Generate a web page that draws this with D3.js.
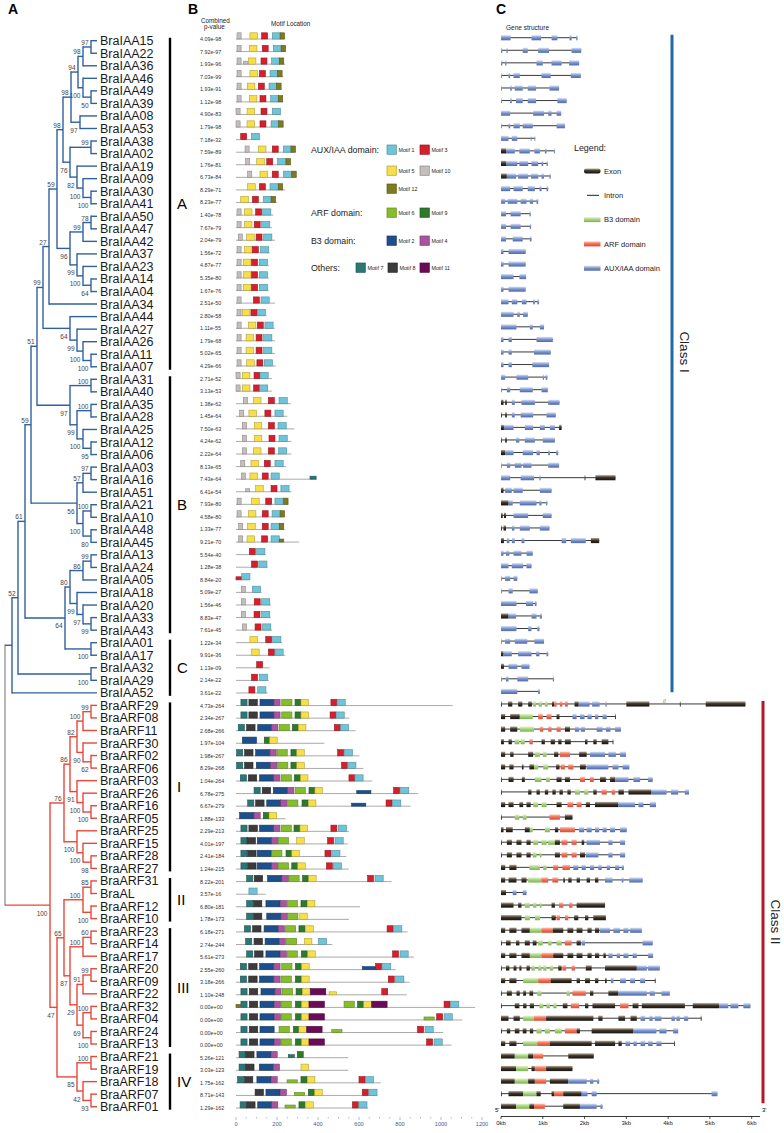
<!DOCTYPE html>
<html><head><meta charset="utf-8">
<script src="https://cdn.jsdelivr.net/npm/d3@7"></script>
<style>body{margin:0;background:#fff}</style>
</head><body><svg id="c" width="784" height="1133"></svg>
<script>
// ---------------- DATA ----------------
const genes = ["BraIAA15","BraIAA22","BraIAA36","BraIAA46","BraIAA49","BraIAA39","BraIAA08","BraIAA53","BraIAA38","BraIAA02","BraIAA19","BraIAA09","BraIAA30","BraIAA41","BraIAA50","BraIAA47","BraIAA42","BraIAA37","BraIAA23","BraIAA14","BraIAA04","BraIAA34","BraIAA44","BraIAA27","BraIAA26","BraIAA11","BraIAA07","BraIAA31","BraIAA40","BraIAA35","BraIAA28","BraIAA25","BraIAA12","BraIAA06","BraIAA03","BraIAA16","BraIAA51","BraIAA21","BraIAA10","BraIAA48","BraIAA45","BraIAA13","BraIAA24","BraIAA05","BraIAA18","BraIAA20","BraIAA33","BraIAA43","BraIAA01","BraIAA17","BraIAA32","BraIAA29","BraIAA52","BraARF29","BraARF08","BraARF11","BraARF30","BraARF02","BraARF06","BraARF03","BraARF26","BraARF16","BraARF05","BraARF25","BraARF15","BraARF28","BraARF27","BraARF31","BraAL","BraARF12","BraARF10","BraARF23","BraARF14","BraARF17","BraARF20","BraARF09","BraARF22","BraARF32","BraARF04","BraARF24","BraARF13","BraARF21","BraARF19","BraARF18","BraARF07","BraARF01"];

// tree: (children)bootstrap@distance ; leaves at distance 97
const N94 = "(((BraIAA15,BraIAA22)97@91,BraIAA36)98@83,(BraIAA46,(BraIAA49,BraIAA39)50@91)100@83)94@78";
const N76 = "((BraIAA38,BraIAA02)99@91,(BraIAA19,(BraIAA09,(BraIAA30,BraIAA41)100@91)100@83)82@77)76@70";
const N96 = "(((BraIAA50,BraIAA47)78@91,BraIAA42)99@83,(BraIAA37,(BraIAA23,(BraIAA14,BraIAA04)64@91)100@83)99@77)96@70";
const N27 = `((((${N94},(BraIAA08,BraIAA53)97@80)98@71,${N76})98@63,${N96})59@57,BraIAA34)27@49`;
const N64b = "(BraIAA44,(BraIAA27,(BraIAA26,(BraIAA11,BraIAA07)100@91)100@83)99@77)64@70";
const NB1 = "((BraIAA31,BraIAA40)100@91,((BraIAA35,BraIAA28)100@91,(BraIAA25,(BraIAA12,BraIAA06)95@91)100@83)99@77)97@70";
const N56 = "(((BraIAA03,BraIAA16)97@91,BraIAA51)57@83,((BraIAA21,BraIAA10)100@91,(BraIAA48,BraIAA45)80@91)100@83)56@77";
const N80 = "(((BraIAA13,BraIAA24)99@91,BraIAA05)86@83,(BraIAA18,(BraIAA20,(BraIAA33,BraIAA43)99@91)97@83)99@77)80@70";
const CI = `((((((${N27},${N64b})99@43,${NB1})51@37,${N56})59@31,(${N80},(BraIAA01,BraIAA17)100@91)64@65)61@25,(BraIAA32,BraIAA29)100@91)52@18,BraIAA52)@12`;
const N86 = "((((BraARF29,BraARF08)99@91,BraARF11)100@83,(BraARF30,(BraARF02,BraARF06)62@91)90@83)82@77,(BraARF03,(BraARF26,(BraARF16,BraARF05)100@91)100@83)91@77)86@70";
const NI = `(${N86},(BraARF25,(BraARF15,(BraARF28,BraARF27)98@91)100@83)100@77)76@64`;
const NII = "((BraARF31,BraAL)85@91,(BraARF12,BraARF10)100@91)100@83";
const N29 = "(((BraARF20,BraARF09)99@91,BraARF22)91@83,((BraARF32,BraARF04)100@91,(BraARF24,BraARF13)100@91)69@83)29@77";
const N87 = `(((BraARF23,BraARF14)60@91,BraARF17)100@83,${N29})87@70`;
const NIV = "((BraARF21,BraARF19)100@91,(BraARF18,(BraARF07,BraARF01)93@91)42@83)85@77";
const CII = `(${NI},((${NII},${N87})65@64,${NIV})47@57)100@50`;
const newick = `(${CI},${CII})@5`;
const tipDistance = 97;

const subgroups = [["A","BraIAA15","BraIAA07"],["B","BraIAA31","BraIAA43"],["C","BraIAA01","BraIAA52"],["I","BraARF29","BraARF27"],["II","BraARF31","BraARF10"],["III","BraARF23","BraARF13"],["IV","BraARF21","BraARF01"]];
const classes = [["Class I","BraIAA15","BraIAA52"],["Class II","BraARF29","BraARF01"]];

const pValues = ["4.09e-98","7.92e-97","1.93e-96","7.03e-99","1.93e-91","1.12e-98","4.90e-83","1.79e-98","7.18e-32","7.59e-89","1.76e-81","6.73e-84","8.29e-71","8.23e-77","1.40e-78","7.67e-79","2.04e-79","1.56e-72","4.87e-77","5.35e-80","1.67e-76","2.51e-50","2.80e-58","1.11e-55","1.79e-68","5.02e-65","4.29e-66","2.71e-52","3.13e-53","1.38e-62","1.45e-64","7.50e-63","4.24e-62","2.22e-64","8.13e-65","7.43e-64","6.41e-54","7.93e-80","4.58e-80","1.33e-77","9.21e-70","5.54e-40","1.28e-38","8.84e-20","5.09e-27","1.56e-46","8.83e-47","7.61e-45","1.22e-34","9.91e-36","1.13e-09","2.14e-22","3.61e-22","4.73e-264","2.34e-267","2.68e-266","1.97e-104","1.98e-267","8.29e-268","1.04e-264","6.78e-275","6.67e-279","1.88e-133","2.29e-213","4.01e-197","2.41e-184","1.24e-215","8.22e-201","3.57e-16","6.80e-181","1.78e-173","6.18e-271","2.74e-244","5.61e-273","2.55e-260","3.18e-266","1.10e-248","0.00e+00","0.00e+00","0.00e+00","0.00e+00","5.26e-121","3.03e-123","1.75e-162","8.71e-143","1.29e-162"];

const proteinLengths = [240,245,240,230,225,230,220,232,117,292,268,295,240,200,182,175,190,165,160,160,160,190,150,190,190,190,195,175,175,268,250,285,270,270,245,393,270,255,238,238,308,145,155,68,125,170,170,175,225,240,165,160,155,1057,553,584,431,602,621,665,889,852,242,551,545,538,551,759,145,605,551,837,470,868,779,846,833,1166,1104,1011,1052,548,548,706,690,645];

// motif:start(aa), "t" = weak (thin) hit
const motifSites = [
"10:5 5:68 3:125 1:177 12:215","10:5 5:65 3:128 1:182 12:220","10:5 10:36t 5:60 3:122 1:174 12:211","10:5 5:68 3:114 1:166 12:203","10:5 5:55 3:109 1:161 12:198","10:5 5:65 3:117 1:169 12:206","10:0 5:54 3:122 1:177","10:0 5:54 3:117 1:171 12:208","3:23 1:75","10:44 5:109 3:177 1:231 12:268",
"10:47 5:101 3:150 1:203 12:244","10:57 5:117 3:177 1:231 12:272","5:57 3:114 1:166 12:206","5:23 3:80 1:133 12:171","10:5 5:41 3:96 1:130","10:5 5:41 3:89 1:125","10:11 5:52 3:98 1:135","10:5 5:41 3:80 1:119","10:5 5:36 3:76 1:114","10:5 5:36 3:76 1:114",
"10:5 5:36 3:76 1:114","10:5 3:85 1:122","10:5 5:31 3:73 1:104","10:5 5:60 3:104 1:141","10:5 5:49 3:98 1:135","10:5 5:49 3:98 1:135","10:5 5:52 3:102 1:138","10:0 5:31 3:88 1:117","10:0 5:31 3:86 1:115","10:36 5:85 3:158 1:210",
"10:18 5:63 3:141 1:190","10:31 5:89 3:158 1:205","10:31 5:89 3:161 1:210","10:31 5:85 3:158 1:207","10:23 5:73 3:138 1:190","10:26 5:68 3:128 1:171 7:361t","10:47t 5:96 3:171 1:219","10:5 5:76 3:145 1:190 12:232","10:5 5:60 3:128 1:176 12:215","10:13 5:57 3:128 1:171 12:211",
"10:13 5:54 3:125 1:171 12:211t","3:65 1:101","3:76 1:111","3:0t 1:28","10:26 1:80","10:26 3:89 1:125","10:26 3:88 1:125","10:31 3:93 1:130","5:68 3:145 1:179","5:76 3:158 1:190",
"3:101","3:76 1:114","3:63 1:106",
"7:24 8:63 2:117 4:185 6:223 9:288 5:317 3:463 1:493",
"7:24 8:63 2:117 4:185 6:223 9:288 5:317 3:459 1:488",
"7:11 8:52 2:106 4:174 6:210 9:275 5:304 3:480 1:509",
"2:31 9:138 5:164",
"7:3 8:42 2:96 4:166 6:200 9:268 5:296 3:496 1:528",
"7:3 8:42 2:99 4:169 6:203 9:268 5:296 3:515 1:545",
"7:21 8:60 2:115 4:184 6:220 9:285 5:314 3:551 1:580",
"7:88 8:128 2:182 4:252 6:288 9:356 5:385 2:589t 3:769 1:803",
"7:57 8:96 2:150 4:218 6:252 9:322 5:353 2:564t 3:732 1:764",
"2:18 4:88 9:133 5:161",
"7:24 8:63 2:115 4:184 6:220 9:283 5:312 3:463 1:499",
"7:24 8:54 2:104 4:174 6:206 5:296 3:447 1:483",
"7:24 8:57 2:104 6:174 9:244 5:272 3:434 1:467",
"7:24 8:57 2:104 4:174 6:206 9:272 5:301 3:441 1:475",
"7:52 8:89 2:154 4:226 6:258 9:325 5:354 3:642 1:678",
"1:63",
"7:52 8:85 2:146 4:216 6:250 9:317 5:348",
"7:52 8:85 2:150 4:220 6:252 5:311",
"7:41 8:81 2:137 4:206 6:241 9:307 5:340 3:737 1:769",
"7:47 8:88 2:142 4:211 6:246 5:333 1:402",
"7:52 8:91 2:146 4:216 6:250 9:319 5:350 3:764 1:800",
"7:21 8:62 2:115 4:185 6:223 9:290 5:320 2:616t 3:681 1:715",
"7:21 8:62 2:115 4:185 6:220 9:290 5:320 3:743 1:779",
"7:24 8:65 2:122 4:190 6:226 9:293 5:324 11:363 5:454t 3:711",
"12:0t 7:24 8:65 2:117 4:187 6:220 9:290 5:320 11:356 6:527 9:593 5:623 11:662 3:1015 1:1047",
"7:24 8:65 2:117 4:187 6:220 9:290 5:320 11:356 6:917t 3:979 1:1015",
"7:24 8:65 2:117 6:210 9:280 5:307 11:345 6:467t 3:886 1:922",
"7:24 8:65 2:117 4:187 6:220 9:290 5:320 11:356 3:930 1:966",
"7:15 8:47 2:102 4:171 7:255t 9:299",
"7:15 8:47 2:114 4:182 5:317",
"7:8 8:41 2:102 4:171 6:249t 9:317 5:348 3:600 1:631",
"8:93 2:146 4:216 6:285t 9:353 5:384 3:616 1:648",
"7:20 8:52 2:106 4:174 6:239t 9:307 5:340 3:568 1:599"];

const motifLengthAA = {1:40,2:69,3:29,4:30,5:37,6:50,7:30,8:41,9:29,10:20,11:75,12:22};
const motifColor = {1:"#6fc4d8",2:"#1d4f8c",3:"#d61f2c",4:"#a9549f",5:"#f6df4a",6:"#86bd2d",7:"#2a7775",8:"#3c3a3b",9:"#2e7a2c",10:"#c4bebc",11:"#6a0b58",12:"#7d7a20"};
const motifTicks = d3.range(0,1201,50);

// gene structure: start-end(kb) + type (e exon, a AUX/IAA, r ARF, g B3)
const geneStructures = [
"0-.23a .73-.96a 1.21-1.35a 1.64-1.69a 1.8-1.83a","0-.03a .13-.16a .52-.64a .89-1.15a 1.69-1.92a","0-.03a .1-.13a .85-1.0a 1.21-1.45a 1.63-1.87a","0-.02a .18-.22a .3-.45a .97-1.19a 1.67-1.91a","0-.02a .22-.26a .33-.52a .64-.84a 1.16-1.39a","0-.02a .22-.26a .36-.52a .64-.84a 1.35-1.57a","0-.22a .77-1.03a 1.13-1.21a 1.33-1.44a","0-.02a .18-.22a .3-.45a .52-.76a 1.33-1.53a","0-.18a .26-.39a .71-.73a .8-.82a","0-.12e .12-.33a .44-.69a .8-.93a 1.05-1.09a 1.27-1.29a",
"0-.12e .12-.39a .44-.65a .73-.89a .97-1.01a 1.09-1.12a","0-.14e .14-.36a .41-.65a .72-.89a .97-1.03a 1.16-1.19a","0-.22a .3-.52a .64-.81a .92-.97a 1.09-1.13a","0-.1a .16-.39a .47-.61a .69-.77a .85-.89a","0-.12a .23-.47a .68-.71a","0-.12a .23-.47a .69-.72a","0-.12a .28-.52a .69-.73a","0-.06a .18-.59a","0-.06a .18-.59a","0-.3a .44-.6a",
"0-.06a .18-.59a","0-.18a .26-.39a .5-.61a .77-.81a .87-.91a","0-.3a .39-.45a .53-.64a","0-.37a .69-.76a .93-1.03a","0-.06a .18-.26a .85-1.24a","0-.06a .18-.26a .79-1.19a","0-.06a .18-.26a .75-1.15a","0-.1a .37-.65a 1.0-1.03a 1.07-1.11a","0-.02a .14-.22a .45-.76a .97-1.12a","0-.06e .1-.14e .26-.33a .49-.81a 1.13-1.4a",
"0-.02e .1-.14e .26-.33a .47-.77a 1.09-1.31a","0-.07e .07-.3a .57-.77a .93-1.05a 1.17-1.29a 1.39-1.45e","0-.02e .1-.14e .36-.44a .57-.81a 1.0-1.29a","0-.1e .1-.3a .52-.77a .85-.93a 1.13-1.17a 1.32-1.37a","0-.02a .14-.22a .33-.49a .53-.73a 1.13-1.39a","0-.22a .47-.79a .92-.95a 2.0-2.02e 2.26-2.74e","0-.06e .1-.26a .3-.52a .93-1.21a","0-.18e .18-.28a .45-.85a .92-.97a 1.08-1.11a","0-.04e .07-.12e .3-.65a 1.0-1.21a","0-.02e .06-.12e .26-.32a .45-.69a .93-1.16a",
"0-.07e .14-.2a .26-.33a .49-.56a 1.45-1.56a 1.67-2.03a 2.15-2.35e","0-.06a .12-.2a .3-.49a .61-.76a","0-.18a .26-.53a .61-.73a","0-.02a .1-.22a .3-.39a","0-.02a .18-.28a .68-.88a","0-.37a .6-.77a .81-.85a","0-.18e .18-.36a .73-.85a .93-.98a","0-.37a .65-.73a .87-.92a","0-.02a .1-.22a .33-.63a .8-1.03a","0-.06e .06-.26a .41-.73a .84-.92a 1.09-1.13a",
"0-.07e .18-.39a .49-.68a","0-.02a .12-.18a .39-.65a 1.24-1.27a","0-.39a .89-.93a",
"0-.02e .17-.27e .41-.51e .65-.74e .77-.84g .9-.98g 1.05-1.12g 1.22-1.27e 1.27-1.33r 1.41-1.47r 1.53-1.6r 1.76-1.86e 1.86-2.12a 2.18-2.36a 2.5-2.53a 3.0-3.55e 4.28-4.3e 4.9-5.85e",
"0-.1e .22-.45e .45-.76g .89-1.0r 1.09-1.21r 1.33-1.4e 1.71-1.81a 1.89-2.0a 2.07-2.17a 2.25-2.33a 2.43-2.53a 2.73-2.75e",
"0-.1e .22-.39e .45-.79g .93-1.01r 1.13-1.21r 1.33-1.43r 1.53-1.65e 1.77-1.87a 1.91-2.01a 2.29-2.43a 2.51-2.62a 2.73-2.87a",
"0-.07e .18-.26e .33-.44g .47-.57g .68-.76r .97-1.05e 1.19-1.29e 1.37-1.45e 1.53-1.67e 2.01-2.07e 2.21-2.29e 2.41-2.57e 2.67-2.69e",
"0-.1e .22-.3e .65-.77e .81-.93g 1.0-1.09g 1.27-1.37e 1.41-1.65r 1.87-2.05e 2.13-2.49a 2.57-2.75a 2.85-2.99a",
"0-.1e .2-.3e .5-.54e .68-.79e .79-.89g 1.01-1.13g 1.32-1.4e 1.43-1.53r 1.61-1.73r 1.89-2.03e 2.05-2.57a 2.67-2.81a 2.91-3.07a",
"0-.02e .18-.3e .5-.57e .81-.97g 1.08-1.17g 1.33-1.45e 1.53-1.65e 1.89-2.01r 2.13-2.22r 2.37-2.51e 2.61-2.73e 2.73-3.05a 3.17-3.33a 3.52-3.63a",
"0-.02e .65-.73e .85-.93e 1.05-1.13e 1.23-1.31e 1.4-1.48e 1.59-1.67e 1.77-1.89g 1.99-2.09g 2.21-2.29e 2.41-2.53r 2.65-2.73r 2.81-2.94e 3.05-3.6e 3.6-3.96a 4.07-4.24a 4.4-4.5a",
"0-.1e .18-.3e .44-.53e .61-.71e .77-.89g .97-1.09g 1.33-1.45e 1.59-1.73r 1.81-1.93r 2.03-2.13e 2.25-2.81e 2.81-3.21a 3.29-3.41a 3.56-3.71a",
"0-.02e .33-.44g .52-.61g 1.16-1.41r 1.53-1.71e",
"0-.06e .12-.28e .57-.69e .69-.76g 1.05-1.17g 1.29-1.37e 1.41-1.77r 1.87-1.99a 2.05-2.17a 2.25-2.35a 2.43-2.53a 2.61-2.73a 2.85-3.01a",
"0-.02e .14-.26e .37-.49e .61-.71e .77-.89g .97-1.09g 1.13-1.29g 1.29-1.41e 1.45-1.59r 1.69-1.81r 1.93-1.99e 2.05-2.37a 2.57-2.67a 2.85-2.97a",
"0-.02e .14-.26e .37-.49e .61-.71e .76-.85g .93-.97g 1.29-1.41e 1.45-1.59r 1.69-1.81r 1.89-2.01e 2.03-2.33a 2.57-2.67a 2.85-2.97a",
"0-.1e .2-.37e .68-.93g 1.01-1.09g 1.25-1.37r 1.47-1.65r 1.73-1.85a 1.93-2.03a 2.13-2.23a 2.33-2.41a 2.53-2.61a 2.73-2.83a 2.89-2.94a",
"0-.1e .18-.37e .49-.61e .65-.97g .97-1.13r 1.23-1.37r 1.49-1.53e 1.61-1.69e 1.81-1.89e 2.05-2.13e 2.25-2.33e 2.49-2.67a 2.89-2.93a 3.07-3.39a",
"0-.12e .28-.37a .52-.61a",
"0-.3e .41-.49e .57-.69g .77-.85g .93-.97g 1.21-1.29e 1.39-1.49r 1.63-1.71r 1.81-2.49e",
"0-.49e .57-.69g .81-.93g 1.21-1.31e 1.33-1.41r 1.53-1.61r 1.75-1.85e 2.01-2.09e 2.21-2.51e",
"0-.1e .2-.37e .49-.69e .69-.97g .97-1.24r 1.24-1.49e 1.59-1.73e 1.81-1.95e 2.07-2.17e 2.25-2.35e 2.37-2.61a 2.69-2.85a 2.93-3.05a 3.09-3.37a",
"0-.02e .12-.23e .36-.44e .57-.69e .76-.85e .89-1.0g 1.13-1.21g 1.33-1.45g 1.53-1.69r 1.81-1.91e 1.93-2.01a 3.39-3.63a",
"0-.1e .2-.37e .49-.69e .69-.97g .97-1.25r 1.25-1.49e 1.59-1.73e 1.81-1.95e 2.07-2.17e 2.25-2.35e 2.45-2.51e 2.57-2.67a 2.77-2.85a 2.93-3.05a 3.15-3.25a 3.52-3.64a",
"0-.02e .12-.2e .3-.37e .44-.49e .61-.69e .73-.81g .89-.97g 1.01-1.09g 1.17-1.25g 1.37-1.45e 1.47-1.56r 1.69-1.77r 2.03-2.17e 2.49-3.25e 3.25-3.49a 3.52-3.8a",
"0-.1e .2-.37e .53-.89g .89-1.19r 1.19-1.69e 1.81-1.89e 2.01-2.13e 2.25-2.33e 2.49-2.53e 2.63-2.69a 2.85-2.99a 3.09-3.21a 3.33-3.45a 3.68-3.7e",
"0-.02e .14-.26e .37-.45e .53-.6e .68-.77e .87-.97g 1.57-1.65g 1.71-2.03r 2.13-2.21e 2.57-2.81e 2.81-3.49a 3.56-3.68a 3.84-4.04a",
"0-.02e .33-.44e .53-.61e .69-.79e .92-1.01g 1.09-1.17g 1.25-1.33g 1.48-1.59e 1.67-1.87r 2.01-2.09e 2.19-2.73e 2.85-3.05r 3.15-3.29e 3.37-4.4e 4.59-5.22e 5.22-5.44a 5.49-5.68a 5.8-5.97a",
"0-.18e .3-.45e .53-.79g .79-1.08r 1.08-2.21e 2.33-2.43e 2.81-2.97e 3.1-3.25e 3.34-3.45a 3.55-3.63a 3.68-3.84a 4.08-4.16a 4.2-4.28a 4.38-4.48a 4.78-4.8e",
"0-.02e .14-.22e .33-.44e .52-.61e .69-.77e .85-.97g 1.05-1.17g 1.29-1.45g 1.53-1.81r 1.81-1.89e 2.17-3.17e 3.17-3.72a 3.79-3.96a 4.12-4.24a",
"0-.1e .2-.37e .53-.87g .87-1.17r 1.17-2.17e 2.25-2.73e 2.81-2.89e 2.98-3.09a 3.17-3.25a 3.34-3.45a 3.52-3.63a 3.72-3.84a 4.14-4.16e",
"0-.33e .33-.65g .65-.77e .77-1.01r 1.61-2.22e",
"0-.36e .36-.65g .73-.81e .81-1.08r 1.08-1.71e",
"0-.33e .33-.65g .65-.81e .81-1.08r 1.17-1.61e 1.61-2.05a 2.13-2.21a 2.3-2.35a",
"0-.02e .18-.53e .53-.85g .85-.95e 1.21-1.27e 1.27-1.49r 1.49-1.93e 1.93-2.07a 2.17-2.29a 5.04-5.18a",
"0-.36e .36-.68g .68-.79e .79-1.05r 1.49-1.89e 1.89-2.29a 2.38-2.43a"];
const kbTicks = [0,1,2,3,4,5,6];
const kbTickLabels = ["0kb","1kb","2kb","3kb","4kb","5kb","6kb"];

const legendB = [["AUX/IAA domain:",[[1,3],[5,10],[12]]],["ARF domain:",[[6,9]]],["B3 domain:",[[2,4]]]];
const legendOthers = [7,8,11];
const legendC = [["e","Exon"],["i","Intron"],["g","B3 domain"],["r","ARF domain"],["a","AUX/IAA domain"]];

// ---------------- DRAW ----------------
const FONT = "'Liberation Sans', Arial, Helvetica, sans-serif";
const svg = d3.select("#c").style("font-family", FONT);
const N = genes.length;
const yLabel = d3.scaleLinear([0, N-1], [40.7, 1106.7]);
const yMotif = d3.scaleLinear([0, N-1], [39, 1108]);
const yGene = d3.scaleLinear([0, N-1], [37.7, 1106.2]);
const xTree = d3.scaleLinear([5, 97], [5, 97]);
const xAA = d3.scaleLinear([0, 1200], [236, 482]);
const xKb = d3.scaleLinear([0, 6], [501, 751.7]);
const idx = Object.fromEntries(genes.map((g,i)=>[g,i]));

// panel letters
[["A",8],["B",188],["C",496]].forEach(([t,x]) =>
  svg.append("text").attr("x",x).attr("y",14).attr("font-size",14).attr("font-weight","bold").text(t));

// ---- tree ----
function parseTree(s){
  let i=0;
  function node(){
    const n={};
    if(s[i]==='('){ i++; n.children=[];
      for(;;){ n.children.push(node()); if(s[i]===','){i++;} else {i++; break;} } }
    let lab=''; while(i<s.length && s[i]!==',' && s[i]!==')') lab+=s[i++];
    if(n.children){ const p=lab.split('@'); n.boot=p[0]; n.dist=+p[1]; }
    else { n.name=lab; n.dist=tipDistance; }
    return n;
  }
  return node();
}
const root = d3.hierarchy(parseTree(newick));
root.leaves().forEach(l => { l.py = yLabel(idx[l.data.name]); });
root.eachAfter(n => { n.px = xTree(n.data.dist);
  if(n.children) n.py = (n.children[0].py + n.children[n.children.length-1].py)/2; });
root.children[0].each(n => n.cls = "I");
root.children[1].each(n => n.cls = "II");
const treeColor = c => c==="I" ? "#31609e" : c==="II" ? "#e8473a" : "#9a9a9a";
const gT = svg.append("g").attr("stroke-width",1.4).attr("fill","none");
root.descendants().forEach(n => {
  if(n.parent) gT.append("line").attr("x1",n.parent.px).attr("x2",n.px).attr("y1",n.py).attr("y2",n.py).attr("stroke",treeColor(n.cls));
  if(n.children) gT.append("line").attr("x1",n.px).attr("x2",n.px)
     .attr("y1",n.children[0].py).attr("y2",n.children[n.children.length-1].py)
     .attr("stroke",treeColor(n.cls)).attr("stroke-linecap","square");
});
root.descendants().filter(n => n.children && n.data.boot).forEach(n => {
  const first = n.parent && n.parent.children[0]===n;
  svg.append("text").attr("x",n.px-2.5).attr("y", first ? n.py-2 : n.py+10.5)
    .attr("text-anchor","end").attr("font-size",6.5).attr("fill","#444").text(n.data.boot);
});
root.leaves().forEach(l => svg.append("text").attr("x",100).attr("y",l.py+4.5)
  .attr("font-size",12.5).attr("fill","#1a1a1a").text(l.data.name));

// subgroup bars
subgroups.forEach(([t,a,b]) => {
  const y1=yLabel(idx[a])-3, y2=yLabel(idx[b])+3;
  svg.append("line").attr("x1",170).attr("x2",170).attr("y1",y1).attr("y2",y2).attr("stroke","#000").attr("stroke-width",2.4);
  svg.append("text").attr("x",177).attr("y",(y1+y2)/2+5.5).attr("font-size",15).text(t);
});

// ---- panel B ----
svg.append("text").attr("x",201).attr("y",22.5).attr("font-size",6.3).attr("fill","#222").text("Combined");
svg.append("text").attr("x",204).attr("y",29).attr("font-size",6.3).attr("fill","#222").text("p-value");
svg.append("text").attr("x",271).attr("y",26).attr("font-size",6.3).attr("fill","#222").text("Motif Location");
pValues.forEach((p,i) => svg.append("text").attr("x",200).attr("y",yMotif(i)+2).attr("font-size",5.4).attr("fill","#333").text(p));
const gM = svg.append("g");
motifSites.forEach((row,i) => {
  const y = yMotif(i);
  gM.append("line").attr("x1",xAA(0)).attr("x2",xAA(proteinLengths[i])).attr("y1",y).attr("y2",y).attr("stroke","#aaa").attr("stroke-width",1);
  row.split(" ").forEach(tok => {
    const thin = tok.endsWith("t");
    const [m,s] = tok.replace("t","").split(":").map(Number);
    const h = thin ? 3 : 6.2;
    gM.append("rect").attr("x",xAA(s)).attr("y",y-h).attr("width",xAA(s+motifLengthAA[m])-xAA(s)).attr("height",h)
      .attr("fill",motifColor[m]).attr("stroke",d3.color(motifColor[m]).darker(0.9)).attr("stroke-width",0.6);
  });
});
motifTicks.forEach(t => {
  const major = t%200===0;
  svg.append("line").attr("x1",xAA(t)).attr("x2",xAA(t)).attr("y1",1117).attr("y2",1117+(major?3:1.5)).attr("stroke","#7d8fb5").attr("stroke-width",0.6);
  if(major) svg.append("text").attr("x",xAA(t)).attr("y",1126).attr("text-anchor","middle").attr("font-size",5.6).attr("fill","#3b5ea0").text(t);
});
// legend B
function legBox(m,x,y){
  svg.append("rect").attr("x",x).attr("y",y).attr("width",9.3).attr("height",9.3)
    .attr("fill",motifColor[m]).attr("stroke",d3.color(motifColor[m]).darker(0.9)).attr("stroke-width",0.7);
  svg.append("text").attr("x",x+11.5).attr("y",y+6.5).attr("font-size",5.3).attr("fill","#222").text("Motif "+m);
}
const legRowsY = [[145,166,184],[208],[236]];
legendB.forEach(([title,rows],k) => {
  svg.append("text").attr("x",311).attr("y",legRowsY[k][0]+8).attr("font-size",8.8).attr("fill","#222").text(title);
  rows.forEach((r,j) => r.forEach((m,c) => legBox(m, 387+c*33, legRowsY[k][j])));
});
svg.append("text").attr("x",311).attr("y",271).attr("font-size",8.8).attr("fill","#222").text("Others:");
legendOthers.forEach((m,c) => legBox(m, 356+c*32, 263));

// ---- panel C ----
const defs = svg.append("defs");
const gradStops = {e:["#b9ad9c","#3f362b","#141210"], a:["#dfe7f8","#8199d0","#4d68aa"], r:["#ffc6b6","#f3735b","#dc4a32"], g:["#e6f5d2","#acd681","#7eae54"]};
Object.entries(gradStops).forEach(([k,c]) => {
  const lg = defs.append("linearGradient").attr("id","grad-"+k).attr("x1",0).attr("y1",0).attr("x2",0).attr("y2",1);
  lg.append("stop").attr("offset","0%").attr("stop-color",c[0]);
  lg.append("stop").attr("offset","45%").attr("stop-color",c[1]);
  lg.append("stop").attr("offset","100%").attr("stop-color",c[2]);
});
svg.append("text").attr("x",506).attr("y",30).attr("font-size",6.5).attr("fill","#222").text("Gene structure");
const gG = svg.append("g");
geneStructures.forEach((row,i) => {
  const y = yGene(i);
  const segs = row.split(" ").map(t => { const ty=t.slice(-1); const [a,b]=t.slice(0,-1).split("-").map(Number); return [a,b,ty]; });
  const end = d3.max(segs, d=>d[1]);
  gG.append("line").attr("x1",xKb(0)).attr("x2",xKb(end)).attr("y1",y).attr("y2",y).attr("stroke","#222").attr("stroke-width",0.9);
  segs.forEach(([a,b,ty]) => gG.append("rect").attr("x",xKb(a)).attr("y",y-2.6).attr("width",Math.max(0.8,xKb(b)-xKb(a))).attr("height",5.2).attr("fill","url(#grad-"+ty+")"));
});
svg.append("text").attr("x",xKb(3.88)).attr("y",yGene(idx["BraARF29"])-1).attr("font-size",5).attr("fill","#555").text("//");
// axis C
svg.append("line").attr("x1",xKb(0)).attr("x2",xKb(6.2)).attr("y1",1116.5).attr("y2",1116.5).attr("stroke","#222").attr("stroke-width",0.9);
kbTicks.forEach((t,k) => {
  svg.append("line").attr("x1",xKb(t)).attr("x2",xKb(t)).attr("y1",1116.5).attr("y2",1119).attr("stroke","#222").attr("stroke-width",0.8);
  svg.append("text").attr("x",xKb(t)).attr("y",1124.5).attr("text-anchor","middle").attr("font-size",6).attr("fill","#222").text(kbTickLabels[k]);
});
svg.append("text").attr("x",495).attr("y",1112).attr("font-size",6).text("5'");
svg.append("text").attr("x",762).attr("y",1112).attr("font-size",6).text("3'");
// legend C
svg.append("text").attr("x",574).attr("y",150.5).attr("font-size",8.9).attr("fill","#222").text("Legend:");
legendC.forEach(([ty,label],k) => {
  const y = 171 + k*24.3;
  if(ty==="i") svg.append("line").attr("x1",587).attr("x2",599).attr("y1",y).attr("y2",y).attr("stroke","#222").attr("stroke-width",1);
  else svg.append("rect").attr("x",584).attr("y",y-2.5).attr("width",16.5).attr("height",5).attr("rx",ty==="e"?2:0).attr("fill","url(#grad-"+ty+")");
  svg.append("text").attr("x",604).attr("y",y+2.7).attr("font-size",7.5).attr("fill","#222").text(label);
});
// class bars
const classColor = ["#1f6aa6","#b0182c"], classX = [672, 763];
classes.forEach(([t,a,b],k) => {
  const y1 = yGene(idx[a])-3, y2 = yGene(idx[b])+(k===0?1:-3);
  svg.append("line").attr("x1",classX[k]).attr("x2",classX[k]).attr("y1",y1).attr("y2",y2).attr("stroke",classColor[k]).attr("stroke-width",3);
  const cy = k===0 ? 352 : 922;
  svg.append("text").attr("transform",`translate(${classX[k]+8},${cy}) rotate(90)`).attr("text-anchor","middle").attr("font-size",13.5).attr("fill","#222").text(t);
});
</script></body></html>
